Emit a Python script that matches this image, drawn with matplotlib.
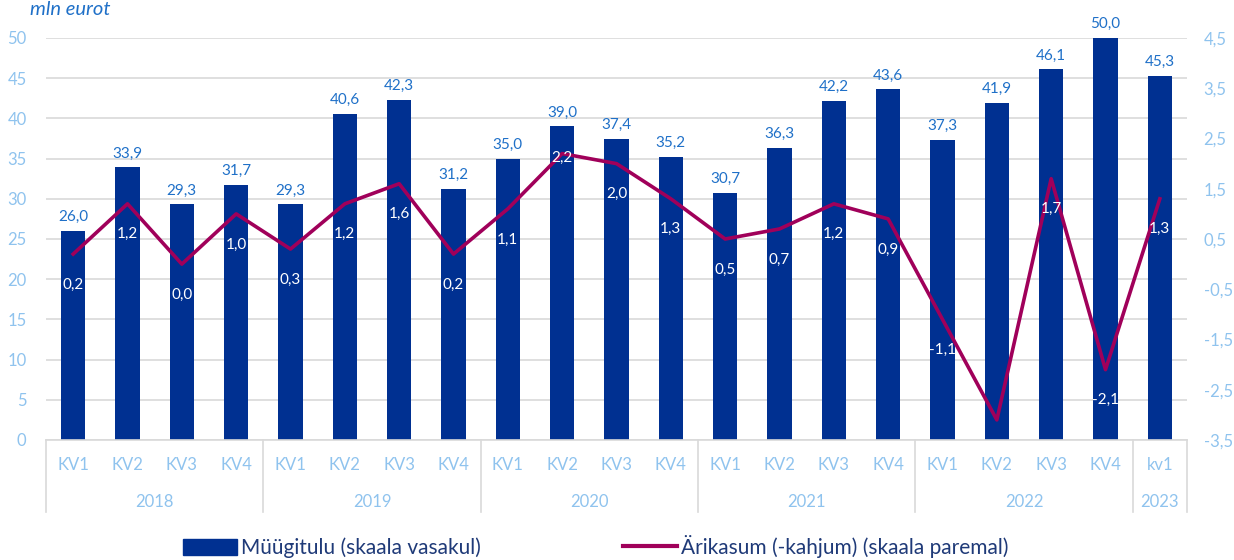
import matplotlib
matplotlib.use("Agg")
import matplotlib.pyplot as plt
import numpy as np
from matplotlib.lines import Line2D
from matplotlib.patches import Patch

# Data
years = ["2018", "2019", "2020", "2021", "2022", "2023"]
quarters_per_year = [4, 4, 4, 4, 4, 1]
quarters = ["KV1", "KV2", "KV3", "KV4"] * 5 + ["kv1"]
revenue = [26.0, 33.9, 29.3, 31.7, 29.3, 40.6, 42.3, 31.2, 35.0, 39.0, 37.4,
           35.2, 30.7, 36.3, 42.2, 43.6, 37.3, 41.9, 46.1, 50.0, 45.3]
profit = [0.2, 1.2, 0.0, 1.0, 0.3, 1.2, 1.6, 0.2, 1.1, 2.2, 2.0,
          1.3, 0.5, 0.7, 1.2, 0.9, -1.1, -3.1, 1.7, -2.1, 1.3]
hidden_profit_labels = [17]

BAR = "#003091"
LINE = "#A0005A"
TICK = "#8FC3EE"
VALUE = "#1F70C8"
GRID = "#D9D9D9"
LEGEND_TXT = "#1F3A78"

plt.rcParams["font.family"] = ["Lato", "DejaVu Sans"]

fig = plt.figure(figsize=(12.34, 5.6), dpi=100)
ax = fig.add_axes([46 / 1234, 1 - 440 / 560, (1187 - 46) / 1234, (440 - 38) / 560])
ax2 = ax.twinx()

x = np.arange(len(revenue))
ax.bar(x, revenue, width=0.45, color=BAR, zorder=2)
ax.set_xlim(-0.5, len(revenue) - 0.5)
ax.set_ylim(0, 50)
ax.set_yticks(np.arange(0, 51, 5))
ax.yaxis.grid(True, color=GRID, linewidth=1.2, zorder=0)
ax.set_axisbelow(True)
ax.tick_params(axis="y", length=0, labelsize=12, labelcolor=TICK, pad=14)
ax.set_xticks([])
for side in ["top", "left", "right"]:
    ax.spines[side].set_visible(False)
ax.spines["bottom"].set_color(GRID)
ax.spines["bottom"].set_linewidth(1.2)

for xi, v in zip(x, revenue):
    ax.annotate(f"{v:.1f}".replace(".", ","), (xi, v), xytext=(0, 5),
                textcoords="offset points", ha="center", va="bottom",
                fontsize=11, color=VALUE)

ax2.plot(x, profit, color=LINE, linewidth=2.6, zorder=3)
ax2.set_ylim(-3.5, 4.5)
ax2.set_yticks(np.arange(-3.5, 4.6, 1.0))
ax2.set_yticklabels([f"{t:.1f}".replace(".", ",") for t in np.arange(-3.5, 4.6, 1.0)])
ax2.tick_params(axis="y", length=0, labelsize=12, labelcolor=TICK, pad=12)
for side in ["top", "left", "right", "bottom"]:
    ax2.spines[side].set_visible(False)

for i, (xi, v) in enumerate(zip(x, profit)):
    if i in hidden_profit_labels:
        continue
    dy = -3 if i == 9 else -22
    ax2.annotate(f"{v:.1f}".replace(".", ","), (xi, v), xytext=(0, dy),
                 textcoords="offset points", ha="center", va="center",
                 fontsize=11, color="white", zorder=4)

# Two-level category axis
trans = ax.get_xaxis_transform()
for xi, q in zip(x, quarters):
    ax.text(xi, -0.062, q, transform=trans, ha="center", va="center",
            fontsize=12, color=TICK)
start = 0
bounds = [-0.5]
for yr, n in zip(years, quarters_per_year):
    mid = start + (n - 1) / 2
    ax.text(mid, -0.155, yr, transform=trans, ha="center", va="center",
            fontsize=12, color=TICK)
    start += n
    bounds.append(start - 0.5)
for b in bounds:
    ax.add_line(Line2D([b, b], [0, -0.18], transform=trans, color=GRID,
                       linewidth=1.2, clip_on=False))

fig.text(30 / 1234, 1 - 1 / 560, "mln eurot", fontsize=14.5, style="italic",
         color=VALUE, ha="left", va="top")

handles = [Patch(facecolor=BAR, edgecolor=BAR),
           Line2D([0], [0], color=LINE, linewidth=3)]
labels = ["Müügitulu (skaala vasakul)", "Ärikasum (-kahjum) (skaala paremal)"]
fig.legend(handles, labels, loc="lower center", bbox_to_anchor=(596 / 1234, -0.03),
           ncol=2, frameon=False, fontsize=15, labelcolor=LEGEND_TXT,
           handlelength=2.6, handleheight=0.8, handletextpad=0.2, columnspacing=6.8)

fig.savefig("out.png", dpi=100)
